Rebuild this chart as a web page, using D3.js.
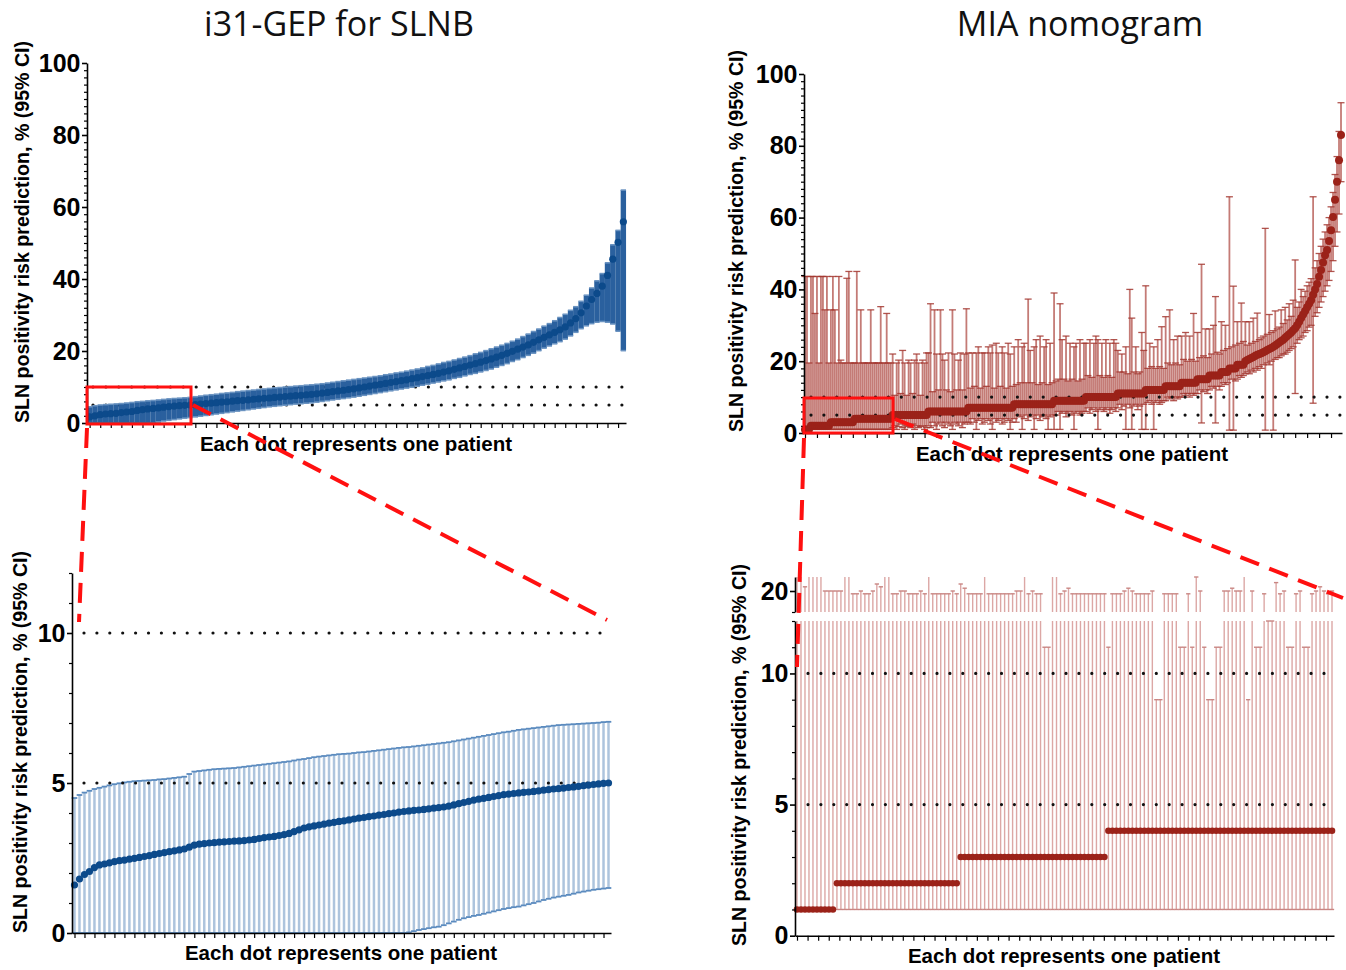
<!DOCTYPE html>
<html><head><meta charset="utf-8">
<script src="https://cdnjs.cloudflare.com/ajax/libs/d3/7.8.5/d3.min.js"></script>
<style>body{margin:0;background:#fff}svg{display:block}</style>
</head><body>
<svg id="chart" width="1346" height="970"></svg>
<script>
// ---------- DATA ----------
const panelTitles = ["i31-GEP for SLNB", "MIA nomogram"];
const yAxisTitle = "SLN positivity risk prediction, % (95% CI)";
const xAxisTitle = "Each dot represents one patient";
const thresholds = [5, 10];
const yTicksTop = [0, 20, 40, 60, 80, 100];
const yTicksZoomGEP = [0, 5, 10];
const yTicksZoomMIALow = [0, 5, 10];
const yTicksZoomMIAHigh = [20];

// i31-GEP, all patients (sorted)
const gepRisk = [1.7,2.0,2.3,2.5,2.6,2.7,2.9,3.05,3.2,3.5, 3.7,3.9,4.05,4.2,4.4,4.55,4.7,4.8,4.9,5.0,
 5.1,5.25,5.4,5.5,5.65,5.8,5.9,6.05,6.2,6.3, 6.45,6.6,6.7,6.85,6.95,7.1,7.2,7.35,7.45,7.6,
 7.7,7.85,7.95,8.1,8.3,8.5,8.7,8.9,9.1,9.3, 9.5,9.75,10.0,10.25,10.5,10.75,11.0,11.25,11.5,11.75,
 12.0,12.3,12.6,12.9,13.2,13.5,13.8,14.15,14.5,14.9, 15.3,15.7,16.1,16.5,16.9,17.35,17.8,18.3,18.8,19.35,
 19.9,20.5,21.1,21.7,22.4,23.1,23.8,24.5,25.2,25.9, 26.7,27.8,29.0,30.6,32.5,34.3,36.0,38.0,41.0,45.5,
 50.2,55.9];
const gepLower = [0,0,0,0,0,0,0,0,0,0, 0,0,0.05,0.3,0.55,0.75,0.95,1.15,1.35,1.5,
 1.7,1.9,2.1,2.3,2.5,2.7,2.9,3.1,3.3,3.5, 3.7,3.9,4.1,4.3,4.5,4.65,4.8,4.95,5.1,5.25,
 5.35,5.5,5.6,5.8,6.0,6.2,6.4,6.6,6.8,7.0, 7.2,7.45,7.7,7.95,8.2,8.45,8.7,8.95,9.2,9.45,
 9.7,9.95,10.2,10.5,10.8,11.1,11.4,11.7,12.0,12.4, 12.7,13.1,13.5,13.8,14.2,14.6,15.0,15.5,16.0,16.5,
 17.1,17.6,18.2,18.8,19.4,20.1,20.8,21.4,22.0,22.6, 23.3,24.2,25.2,26.2,27.0,27.6,28.0,28.2,28.0,27.5,
 25.5,20.1];
const gepUpper = [4.5,4.8,5.0,5.1,5.2,5.3,5.4,5.55,5.7,5.9, 6.0,6.15,6.25,6.4,6.55,6.7,6.8,6.9,7.0,7.1,
 7.3,7.5,7.7,7.85,8.0,8.2,8.35,8.5,8.7,8.85, 9.0,9.15,9.3,9.45,9.6,9.75,9.85,10.0,10.1,10.25,
 10.35,10.5,10.6,10.75,10.9,11.1,11.3,11.5,11.7,11.9, 12.1,12.3,12.5,12.7,12.9,13.1,13.4,13.6,13.9,14.1,
 14.4,14.7,15.0,15.3,15.7,16.0,16.4,16.8,17.1,17.5, 17.9,18.3,18.7,19.2,19.6,20.1,20.6,21.1,21.6,22.1,
 22.7,23.3,24.0,24.7,25.4,26.1,26.9,27.6,28.4,29.3, 30.2,31.3,32.3,33.8,35.5,37.5,39.5,41.5,44.5,49.5,
 53.5,64.7];

// i31-GEP, zoom on patients with risk <= 5%
const gepZoomRisk = [1.6,1.8,1.95,2.05,2.18,2.27,2.3,2.34,2.38,2.41, 2.43,2.46,2.49,2.52,2.55,2.58,2.62,2.65,2.68,2.71,
 2.74,2.77,2.8,2.86,2.93,2.96,2.98,3.0,3.01,3.03, 3.04,3.05,3.06,3.07,3.08,3.1,3.12,3.15,3.18,3.2,
 3.22,3.25,3.28,3.32,3.38,3.44,3.5,3.54,3.57,3.6, 3.63,3.66,3.69,3.72,3.74,3.77,3.8,3.83,3.85,3.88,
 3.9,3.93,3.95,3.98,4.0,4.03,4.05,4.07,4.09,4.1, 4.12,4.14,4.16,4.18,4.2,4.23,4.27,4.31,4.35,4.39,
 4.43,4.46,4.49,4.52,4.55,4.58,4.61,4.63,4.65,4.67, 4.69,4.7,4.72,4.74,4.76,4.78,4.8,4.81,4.83,4.85,
 4.87,4.89,4.91,4.93,4.95,4.97,4.99,5.0];
const gepZoomLower = [0,0,0,0,0,0,0,0,0,0, 0,0,0,0,0,0,0,0,0,0,
 0,0,0,0,0,0,0,0,0,0, 0,0,0,0,0,0,0,0,0,0,
 0,0,0,0,0,0,0,0,0,0, 0,0,0,0,0,0,0,0,0,0,
 0,0,0,0,0,0,0,0.02,0.06,0.1, 0.13,0.16,0.19,0.21,0.26,0.32,0.38,0.44,0.49,0.53,
 0.57,0.6,0.64,0.68,0.72,0.76,0.8,0.83,0.86,0.88, 0.92,0.96,1.0,1.05,1.1,1.14,1.18,1.21,1.24,1.27,
 1.31,1.35,1.38,1.41,1.44,1.46,1.48,1.5];
const gepZoomUpper = [4.5,4.6,4.68,4.74,4.8,4.84,4.88,4.92,4.96,4.99, 5.02,5.04,5.06,5.07,5.08,5.09,5.1,5.12,5.13,5.15,
 5.17,5.19,5.21,5.3,5.38,5.4,5.42,5.44,5.46,5.47, 5.48,5.49,5.5,5.52,5.54,5.56,5.58,5.6,5.62,5.64,
 5.66,5.68,5.7,5.72,5.75,5.78,5.8,5.83,5.86,5.88, 5.9,5.92,5.94,5.96,5.97,5.98,6.0,6.02,6.03,6.05,
 6.07,6.09,6.11,6.13,6.15,6.17,6.19,6.2,6.22,6.24, 6.26,6.28,6.3,6.32,6.34,6.36,6.39,6.42,6.45,6.48,
 6.51,6.54,6.57,6.6,6.63,6.66,6.69,6.71,6.74,6.77, 6.79,6.81,6.83,6.85,6.87,6.89,6.91,6.93,6.94,6.95,
 6.96,6.97,6.98,6.99,7.0,7.01,7.03,7.04];

// MIA nomogram, all patients (sorted)
const miaRisk = [
 1,1,1,
 2,2,2,2,2,2,2,2,2,2,
 3,3,3,3,3,3,3,3,3,3,3,3,
 4,4,4,4,4,4,4,4,4,4,4,4,4,4,4,4,4,4,4,
 5,5,5,5,5,5,5,5,5,5,5,5,5,5,5,5,5,5,
 6,6,6,6,6,6,6,6,6,6,6,6,6,6,6,6,6,6,6,6,
 7,7,7,7,7,7,7,7,7,7,7,7,7,7,7,7,7,7,7,7,7,7,7,
 8,8,8,8,8,8,8,8,8,8,8,8,8,8,8,8,8,8,8,8,
 9,9,9,9,9,9,9,9,9,9,9,9,9,9,9,9,
 10,10,10,10,10,10,10,10,10,10,10,10,10,10,10,10,
 11,11,11,11,11,11,11,11,11,11,11,11,11,11,
 12,12,12,12,12,12,12,12,12,12,
 13,13,13,13,13,13,13,13,
 14,14,14,14,14,14,14,14,
 15,15,15,15,15,15,
 16,16,16,16,16,16,
 17,17,17,17, 18,18,18,18, 19,19,19,19,
 20, 20.3,20.6,20.9,21.2,21.5,21.8,22,22.2, 22.5,22.8,23.1,23.4,23.7,24,24.4,24.8,
 25.2,25.6,26,26.5,27,27.5,28,28.6, 29.2,30,31,32,33,34,35,36,
 37,38.5,40,41.5,43.5, 45.4,47.5,49.5,51, 53.5,56.5,60.2, 65,70, 76,83];
const miaLower = [
 1,1,1,1,1,1,1,1,1,1,1, 1,1,1,1,1,1,1,1,1,1,1, 1,1,1,1,1,1,1,1,1,1,1, 1,1,1,1,1,1,1,1,1,1,1,
 1.5,2,1,1.8,2.5,1.5,1,2,1.8,1.5,2.5,1,2,1.5,1.8,2,1,1.5,
 2,1.5,3,2,1,2.5,3,2,1.5,3,2.5,2,1,3,2.5,2,3,1.5,2.5,3,
 3,2.5,4,3,1,3.5,4,2.5,3,4,3.5,2.5,1,4,3,3.5,4,2.5,3,4,3.5,1,3,
 4,3,5,4.5,1,4,5,3.5,4.5,5,1,4,5,3.5,4.5,5,4,1,4.5,5,
 1,5,6,1,5.5,6,4.5,5.5,6,5,1,5.5,6,5,5.5,6,
 6,7,5.5,6.5,7,6,1,6.5,7,6,6.5,7,5.5,6.5,7,6,
 7,8,6.5,7.5,1,8,7,1,7.5,8,6.5,7.5,1,8,
 1,8.5,9,8,1,8.5,9,8,8.5,9,
 9,10,9.5,10,9,10,9.5,10,
 10,11,10.5,11,10,11,10.5,11,
 11,12,2.8,11.5,12,11,
 12,13,12.5,2.8,13,12,
 13,14,13.5,14, 0.8,15,0.8,14.5, 15,16,15.5,16,
 16.5,17,16.5,17.5,17,18,17.5,18.5,18, 19,0.8,19.5,19,20,0.8,20.5,21,
 21,21.5,22,22,22.5,23,23.5,24, 11,25,26,26.5,27,28,28.5,29.5,
 30,8.3,32.5,33.5,35, 36.5,38,39.5,41, 42.5,45,48, 52,56, 61,70];
const miaUpper = [
 43.6,43.6,19.5,43.6,43.6,33.3,43.6,19.5,43.6,43.6,34.3,43.6,19.5,34.3,43.6,34.3,19.5,43.6,
 20.3,19.5,19.5,43.1,45,19.5,19.5,19.5,45,19.5,34.3,19.5,19.5,19.5,19.5,34.3,19.5,19.5,19.5,19.5,35.2,19.5,19.5,33.3,19.5,19.5,
 22,10.5,19.5,20.3,11,23,19.5,10.5,20.3,19.5,11,20.3,22,19.5,10.5,20.3,19.5,22.3,
 22.3,36,11.5,34.3,22,12,34.3,22,20.3,12,22.3,11.5,34.3,22,12,20.3,22.3,12,22,34.6,
 22.3,12.5,22.3,13,22.3,24,12.5,22.3,22.3,13,24,22.3,24.5,12.5,25,22.3,13,24,22.3,12.5,25,22,13,
 24,13.5,26,14,24,25,14,37.3,23,14,24,26,13.5,27,14,24,26,13.5,25,14,
 39,14.5,15,36,26,15,27,14.5,25,15,24,25,14.5,26,15,25,
 25,16,26,15.5,25,27,26,16,25,15.5,26,16,25,15.5,26,25,
 23,17,22,17,24,16.5,40,32,17,24,16.5,17,28,23,
 41,18,25,18.5,24,18,26,18.5,29.6,18,
 32.4,19.5,34.3,19,26,19.5,27,19,
 27,20.5,28,20,27,20.5,33.3,20,
 28,21,47,21.5,29,21,
 29,22,30,38,22.5,22,
 31,23,30,23.5, 65.8,24,40.9,24.5, 31,25,36.2,25.5,
 31,24.5,31,25,32,25.5,33.4,26,26.5, 27,57,27.5,33,28,28.5,34,29,
 29.5,34.3,30.5,35,31.5,36,32.5,37, 48.2,35,36.5,40,38,39.5,41,42,
 43,65.8,46,48,50, 52,54,56,58, 60,63,67, 72,77, 84,92];

// MIA nomogram, zoom on the lowest-risk patients (broken axis)
const miaZoomRisk = [1,1,1,1,1,1,1,1,1,1,
 2,2,2,2,2,2,2,2,2,2,2,2,2,2,2,2,2,2,2,2,2,2,2,2,2,2,2,2,2,2,2,
 3,3,3,3,3,3,3,3,3,3,3,3,3,3,3,3,3,3,3,3,3,3,3,3,3,3,3,3,3,3,3,3,3,3,3,3,3,
 4,4,4,4,4,4,4,4,4,4,4,4,4,4,4,4,4,4,4,4,4,4,4,4,4,4,4,4,4,4,4,4,4,4,4,4,4,4,4,4,4,4,4,4,4,4,4,4,4,4,4,4,4,4,4,4,4];
const miaZoomLower = [1,1,1,1,1,1,1,1,1,1, 1,1,1,1,1,1,1,1,1,1, 1,1,1,1,1,1,1,1,1,1, 1,1,1,1,1,1,1,1,1,1,
 1,1,1,1,1,1,1,1,1,1, 1,1,1,1,1,1,1,1,1,1, 1,1,1,1,1,1,1,1,1,1, 1,1,1,1,1,1,1,1,1,1,
 1,1,1,1,1,1,1,1,1,1, 1,1,1,1,1,1,1,1,1,1, 1,1,1,1,1,1,1,1,1,1, 1,1,1,1,1,1,1,1,1,1,
 1,1,1,1,1,1,1,1,1,1, 1,1,1,1,1];
const miaZoomUpper = [43,43,20.3,43,34,43,45,20,20,20,
 20,20,43,34,19.8,19.8,20,19.8,19.8,20,
 20.5,20.3,34,33,19.8,19.8,20,20,19.8,19.8,
 19.8,20,19.8,22,19.8,19.8,19.8,19.8,19.8,20,
 19.8,20.5,20.2,19.8,19.8,19.8,19.8,22,19.8,19.8,
 19.8,19.8,19.8,19.8,19.8,20,20,22,19.8,20,
 19.8,19.8,11,11,22,22,19.8,20,20.2,19.8,
 19.8,19.8,19.8,19.8,19.8,19.8,19.8,19.8,11,19.8,
 19.8,19.8,20,20.2,20,19.8,19.8,19.8,19.8,20,
 9,9,19.8,19.8,19.8,19.8,11,11,19.8,11,
 21,20,11,9,9,11,11,20,20,20.2,
 20,20,22,9,20,11,11,19.8,12,12,
 20.6,19.8,20,11,11,19.8,20,11,11,19.8,
 20,20.3,20,19.8,20];

// ---------- DRAWING ----------
const svg = d3.select('#chart');
const FONT = '"Liberation Sans", Arial, Helvetica, sans-serif';
const RED = '#ff1010';
const fmtInt = d3.format('d');

function errorPanel(cfg) {
  const n = cfg.risk.length;
  const x = d3.scalePoint().domain(d3.range(n)).range([cfg.x0, cfg.x1]).padding(0.5);
  const step = x.step();
  const rows = cfg.risk.map((v, i) => ({ i, v, lo: cfg.lower[i], hi: cfg.upper[i] }));
  const g = svg.append('g');
  const segOf = t => cfg.segs.find(s => t >= s.y.domain()[0] && t <= s.y.domain()[1]);
  const refLines = () => {
    thresholds.forEach(t => {
      const s = segOf(t); if (!s) return;
      g.append('line').attr('x1', cfg.refX[0]).attr('x2', cfg.refX[1])
        .attr('y1', s.y(t)).attr('y2', s.y(t))
        .attr('stroke', '#111').attr('stroke-width', 3.2).attr('stroke-linecap', 'round')
        .attr('stroke-dasharray', '0 12.9');
    });
  };
  if (cfg.refBelow) refLines();
  cfg.segs.forEach(s => {
    const [d0, d1] = s.y.domain();
    const vis = rows.filter(d => d.hi > d0 && d.lo < d1);
    g.append('g').selectAll('line').data(vis).join('line')
      .attr('x1', d => x(d.i)).attr('x2', d => x(d.i))
      .attr('y1', d => s.y(Math.max(d.lo, d0))).attr('y2', d => s.y(Math.min(d.hi, d1)))
      .attr('stroke', cfg.barColor).attr('stroke-width', cfg.barWidth)
      .attr('stroke-opacity', cfg.barOpacity || 1);
    const caps = rows.flatMap(d => [d.lo, d.hi].filter(c => c >= d0 && c <= d1).map(c => ({ i: d.i, c })));
    const cw = cfg.capW || step;
    g.append('g').selectAll('line').data(caps).join('line')
      .attr('x1', d => x(d.i) - cw / 2).attr('x2', d => x(d.i) + cw / 2)
      .attr('y1', d => s.y(d.c)).attr('y2', d => s.y(d.c))
      .attr('stroke', cfg.capColor).attr('stroke-width', cfg.capStroke)
      .attr('stroke-opacity', cfg.capOpacity || 1);
  });
  if (!cfg.refBelow) refLines();
  cfg.segs.forEach(s => {
    const [d0, d1] = s.y.domain();
    g.append('g').selectAll('circle').data(rows.filter(d => d.v >= d0 && d.v <= d1)).join('circle')
      .attr('cx', d => x(d.i)).attr('cy', d => s.y(d.v)).attr('r', cfg.r).attr('fill', cfg.dotColor);
  });
  // y axes
  cfg.segs.forEach(s => {
    const ag = g.append('g').attr('transform', `translate(${cfg.x0},0)`)
      .call(d3.axisLeft(s.y).tickValues(s.ticks).tickFormat(fmtInt).tickSize(5).tickPadding(1.5).tickSizeOuter(0));
    ag.select('.domain').attr('stroke', '#000').attr('stroke-width', 1.6);
    ag.selectAll('.tick line').attr('stroke', '#000').attr('stroke-width', 1.6);
    ag.selectAll('text').attr('font-family', FONT).attr('font-weight', 'bold')
      .attr('font-size', 25).attr('fill', '#000');
    const mg = g.append('g').attr('transform', `translate(${cfg.x0},0)`)
      .call(d3.axisLeft(s.y).tickValues(s.minor).tickSize(3).tickFormat(''));
    mg.select('.domain').remove();
    mg.selectAll('.tick line').attr('stroke', '#000').attr('stroke-width', 1.2);
  });
  // x axis
  const base = cfg.segs[0].y(cfg.segs[0].y.domain()[0]);
  const xl = d3.scaleLinear().domain([-0.5, n - 0.5]).range([cfg.x0, cfg.x1]);
  const xg = g.append('g').attr('transform', `translate(0,${base})`)
    .call(d3.axisBottom(xl).tickValues(d3.range(0, n, cfg.xTickStep)).tickSize(5).tickFormat('').tickSizeOuter(0));
  xg.select('.domain').attr('stroke', '#000').attr('stroke-width', 1.6);
  xg.selectAll('.tick line').attr('stroke', '#000').attr('stroke-width', 1.2);
  // titles
  g.append('text').attr('x', cfg.xTitle[0]).attr('y', cfg.xTitle[1]).attr('text-anchor', 'middle')
    .attr('font-family', FONT).attr('font-weight', 'bold').attr('font-size', 20.5).text(xAxisTitle);
  g.append('text').attr('transform', `translate(${cfg.yTitle[0]},${cfg.yTitle[1]}) rotate(-90)`)
    .attr('text-anchor', 'middle').attr('font-family', FONT).attr('font-weight', 'bold')
    .attr('font-size', 19.6).text(yAxisTitle);
}

const minorTop = d3.range(2, 100, 2).filter(v => v % 20 !== 0);

// Top-left: i31-GEP
errorPanel({
  risk: gepRisk, lower: gepLower, upper: gepUpper,
  x0: 87, x1: 626,
  segs: [{ y: d3.scaleLinear().domain([0, 100]).range([423, 63]), ticks: yTicksTop, minor: minorTop }],
  barColor: '#2a609e', barWidth: 5.4, capColor: '#6a93c1', capStroke: 1.6,
  dotColor: '#0c4a8b', r: 3.6, refBelow: true, refX: [93, 626], xTickStep: 2,
  xTitle: [356, 451], yTitle: [29, 232]
});

// Top-right: MIA nomogram
errorPanel({
  risk: miaRisk, lower: miaLower, upper: miaUpper,
  x0: 804, x1: 1342,
  segs: [{ y: d3.scaleLinear().domain([0, 100]).range([433, 74]), ticks: yTicksTop, minor: minorTop }],
  barColor: '#ad4841', barWidth: 1.8, barOpacity: 0.72, capColor: '#a33730', capOpacity: 0.85,
  capW: 7, capStroke: 1.3, dotColor: '#9b2219', r: 4, refBelow: false, refX: [811, 1341],
  xTickStep: 6, xTitle: [1072, 461], yTitle: [743, 241]
});

// Bottom-left: i31-GEP zoom
errorPanel({
  risk: gepZoomRisk, lower: gepZoomLower, upper: gepZoomUpper,
  x0: 72, x1: 611,
  segs: [{ y: d3.scaleLinear().domain([0, 12]).range([933, 573]), ticks: yTicksZoomGEP,
           minor: [1, 2, 3, 4, 6, 7, 8, 9, 11, 12] }],
  barColor: '#adc4dd', barWidth: 2.5, capColor: '#5b8bbf', capStroke: 1.8, capW: 5.6,
  dotColor: '#0c4a8b', r: 3.6, refBelow: false, refX: [84, 608], xTickStep: 2,
  xTitle: [341, 960], yTitle: [27, 742]
});

// Bottom-right: MIA zoom with broken axis
errorPanel({
  risk: miaZoomRisk, lower: miaZoomLower, upper: miaZoomUpper,
  x0: 795, x1: 1334,
  segs: [
    { y: d3.scaleLinear().domain([0, 12]).range([935.7, 621]), ticks: yTicksZoomMIALow,
      minor: [1, 2, 3, 4, 6, 7, 8, 9, 11, 12] },
    { y: d3.scaleLinear().domain([18.5, 21]).range([612, 577]), ticks: yTicksZoomMIAHigh, minor: [18.5] }
  ],
  barColor: '#dca7a5', barWidth: 1.4, capColor: '#c98683', capStroke: 1.4, capW: 4.3,
  dotColor: '#9b2219', r: 3.3, refBelow: false, refX: [808, 1332], xTickStep: 2.65,
  xTitle: [1064, 963], yTitle: [746, 755]
});

// Panel titles
[[339, panelTitles[0]], [1080, panelTitles[1]]].forEach(([cx, t]) => {
  svg.append('text').attr('x', cx).attr('y', 36).attr('text-anchor', 'middle')
    .attr('font-family', '"Open Sans", "Noto Sans", sans-serif').attr('font-size', 34).attr('fill', '#111').text(t);
});

// Zoom indicators (red boxes and dashed connectors)
const ann = svg.append('g').attr('fill', 'none').attr('stroke', RED);
ann.append('rect').attr('x', 87).attr('y', 387).attr('width', 104).attr('height', 37).attr('stroke-width', 3);
ann.append('rect').attr('x', 804).attr('y', 398).attr('width', 89).attr('height', 35).attr('stroke-width', 3);
[[87, 428, 79, 622], [193, 405, 607, 620], [804, 438, 797, 667], [895, 419, 1343, 598]].forEach(l => {
  ann.append('line').attr('x1', l[0]).attr('y1', l[1]).attr('x2', l[2]).attr('y2', l[3])
    .attr('stroke-width', 4).attr('stroke-dasharray', '20 11');
});
</script>
</body></html>
